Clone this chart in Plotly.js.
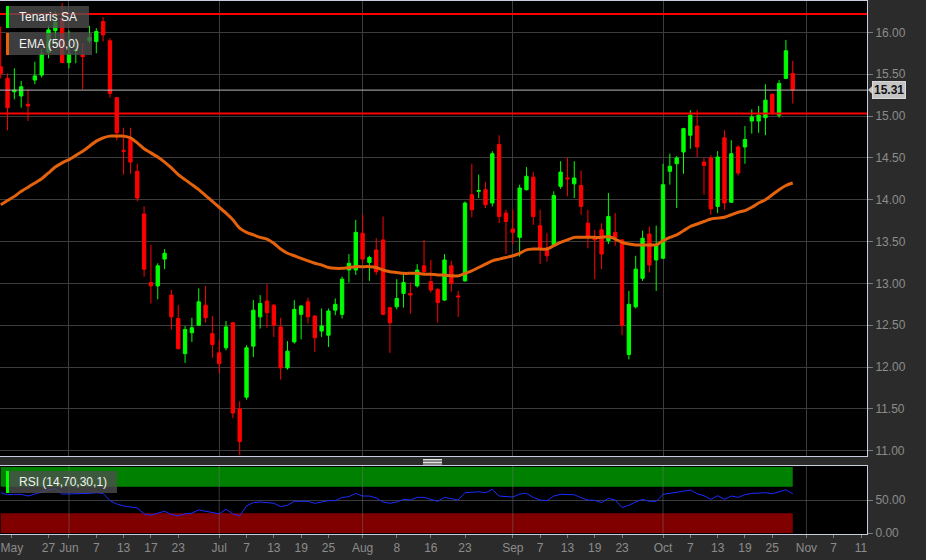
<!DOCTYPE html>
<html>
<head>
<meta charset="utf-8">
<script src="https://cdn.plot.ly/plotly-3.0.1.min.js"></script>
<style>
html,body{margin:0;padding:0;background:#2b2b2b;}
#chart{width:926px;height:560px;}
</style>
</head>
<body>
<div id="chart"></div>
<script>
// ---- data (trading days, Borsa Italiana 2022) ----
const dates = [
"2022-05-18","2022-05-19","2022-05-20","2022-05-23","2022-05-24","2022-05-25","2022-05-26","2022-05-27","2022-05-30","2022-05-31",
"2022-06-01","2022-06-02","2022-06-03","2022-06-06","2022-06-07","2022-06-08","2022-06-09","2022-06-10","2022-06-13","2022-06-14",
"2022-06-15","2022-06-16","2022-06-17","2022-06-20","2022-06-21","2022-06-22","2022-06-23","2022-06-24","2022-06-27","2022-06-28",
"2022-06-29","2022-06-30","2022-07-01","2022-07-04","2022-07-05","2022-07-06","2022-07-07","2022-07-08","2022-07-11","2022-07-12",
"2022-07-13","2022-07-14","2022-07-15","2022-07-18","2022-07-19","2022-07-20","2022-07-21","2022-07-22","2022-07-25","2022-07-26",
"2022-07-27","2022-07-28","2022-07-29","2022-08-01","2022-08-02","2022-08-03","2022-08-04","2022-08-05","2022-08-08","2022-08-09",
"2022-08-10","2022-08-11","2022-08-12","2022-08-16","2022-08-17","2022-08-18","2022-08-19","2022-08-22","2022-08-23","2022-08-24",
"2022-08-25","2022-08-26","2022-08-29","2022-08-30","2022-08-31","2022-09-01","2022-09-02","2022-09-05","2022-09-06","2022-09-07",
"2022-09-08","2022-09-09","2022-09-12","2022-09-13","2022-09-14","2022-09-15","2022-09-16","2022-09-19","2022-09-20","2022-09-21",
"2022-09-22","2022-09-23","2022-09-26","2022-09-27","2022-09-28","2022-09-29","2022-09-30","2022-10-03","2022-10-04","2022-10-05",
"2022-10-06","2022-10-07","2022-10-10","2022-10-11","2022-10-12","2022-10-13","2022-10-14","2022-10-17","2022-10-18","2022-10-19",
"2022-10-20","2022-10-21","2022-10-24","2022-10-25","2022-10-26","2022-10-27","2022-10-28"];

const openP = [
15.59,15.45,15.29,15.24,15.14,15.43,15.49,15.76,16.02,16.17,
15.64,15.78,15.73,15.90,15.89,16.13,15.90,15.22,14.59,14.72,
14.34,13.83,13.01,12.97,13.29,12.86,12.58,12.16,12.41,12.50,
12.74,12.40,12.17,12.23,12.53,11.50,11.64,12.25,12.60,12.79,
12.74,12.48,11.99,12.30,12.63,12.78,12.61,12.43,12.38,12.68,
12.63,13.16,13.16,13.60,13.25,13.40,13.52,12.71,12.72,12.88,
12.88,12.97,13.21,13.02,12.93,12.80,13.21,12.85,13.03,14.06,
14.10,14.12,13.96,14.66,13.84,13.65,13.55,14.12,14.27,13.69,
13.42,13.46,14.16,14.26,14.19,14.17,13.72,13.56,13.64,13.51,
13.61,13.52,12.15,12.72,13.06,13.59,13.28,13.30,14.34,14.43,
14.57,14.77,14.88,14.45,14.50,13.92,14.74,13.97,14.63,14.63,
14.94,14.94,14.98,15.26,15.01,15.45,15.51];

const highP = [
16.07,15.51,15.57,15.42,15.32,15.65,15.80,16.08,16.25,16.35,
16.02,15.93,15.87,16.08,16.05,16.18,15.93,15.23,14.86,14.86,
14.43,13.92,13.46,13.24,13.41,12.92,12.74,12.49,12.59,12.94,
12.97,12.61,12.32,12.55,12.54,11.59,12.26,12.80,12.86,12.99,
12.75,12.59,12.31,12.80,12.74,12.83,12.62,12.70,12.70,12.82,
13.08,13.35,13.76,13.82,13.33,13.54,13.80,12.72,13.05,13.13,
13.01,13.23,13.52,13.28,12.94,13.35,13.27,12.91,13.98,14.43,
14.30,14.21,14.58,14.77,13.88,13.88,14.18,14.39,14.33,13.88,
13.60,14.10,14.46,14.50,14.46,14.35,13.88,13.64,13.72,14.08,
13.84,13.53,12.91,13.33,13.63,13.68,13.69,14.43,14.55,14.52,
14.86,15.07,15.07,14.50,14.53,14.58,14.83,14.71,14.65,14.88,
15.08,15.12,15.38,15.27,15.43,15.91,15.66];

const lowP = [
15.45,14.83,15.20,15.10,14.94,15.38,15.46,15.69,15.86,15.63,
15.57,15.63,15.32,15.87,15.75,15.89,15.22,14.71,14.30,14.31,
13.98,13.08,12.76,12.81,13.17,12.45,12.21,12.05,12.30,12.49,
12.53,12.11,11.93,12.20,11.39,10.95,11.61,12.12,12.46,12.47,
12.36,11.85,11.97,12.28,12.33,12.52,12.18,12.36,12.24,12.62,
12.58,13.01,13.10,13.24,13.03,13.10,12.62,12.17,12.69,12.71,
12.64,12.95,13.12,12.89,12.53,12.79,12.90,12.60,13.02,13.79,
14.02,13.90,13.92,13.72,13.35,13.47,13.32,14.11,13.70,13.23,
13.26,13.45,14.13,14.04,14.02,13.82,13.42,13.05,13.17,13.47,
13.45,12.38,12.09,12.70,13.03,13.13,12.91,13.29,14.18,13.90,
14.31,14.61,14.51,14.06,13.82,13.84,13.88,13.96,14.29,14.43,
14.79,14.80,14.77,15.01,14.98,15.44,15.15];

const closeP = [
15.51,15.10,15.31,15.35,15.12,15.48,15.74,16.03,16.12,15.64,
15.74,15.79,15.71,15.94,16.01,15.97,15.27,14.80,14.58,14.45,
14.02,13.17,12.97,13.21,13.36,12.60,12.22,12.45,12.47,12.78,
12.59,12.27,12.04,12.48,11.45,11.11,12.23,12.68,12.76,12.65,
12.50,11.99,12.19,12.69,12.73,12.60,12.35,12.49,12.67,12.75,
13.05,13.24,13.61,13.29,13.31,13.14,12.63,12.53,12.82,13.01,
12.86,13.16,13.14,12.92,12.77,13.28,13.00,12.84,13.96,13.88,
14.11,13.94,14.55,13.80,13.74,13.61,14.14,14.28,13.80,13.42,
13.33,14.05,14.33,14.25,14.26,13.92,13.56,13.52,13.35,13.80,
13.55,12.50,12.75,13.17,13.54,13.22,13.46,14.18,14.40,14.50,
14.85,15.01,14.63,14.41,13.89,14.51,13.96,14.55,14.32,14.72,
14.99,15.01,15.19,15.04,15.39,15.78,15.31];

const ema50 = [
13.94,13.99,14.04,14.10,14.15,14.20,14.25,14.32,14.39,14.44,
14.48,14.53,14.58,14.64,14.70,14.74,14.76,14.76,14.76,14.74,
14.68,14.61,14.56,14.51,14.45,14.38,14.30,14.24,14.18,14.12,
14.05,13.98,13.91,13.84,13.76,13.66,13.61,13.58,13.55,13.53,
13.48,13.41,13.36,13.33,13.30,13.27,13.24,13.22,13.19,13.18,
13.18,13.19,13.20,13.20,13.20,13.19,13.16,13.14,13.13,13.12,
13.12,13.12,13.11,13.11,13.10,13.10,13.09,13.09,13.12,13.15,
13.19,13.23,13.27,13.29,13.31,13.33,13.36,13.40,13.41,13.41,
13.41,13.45,13.49,13.52,13.55,13.55,13.55,13.55,13.55,13.56,
13.53,13.49,13.47,13.46,13.46,13.46,13.46,13.51,13.55,13.58,
13.63,13.68,13.71,13.74,13.77,13.78,13.79,13.82,13.85,13.87,
13.91,13.96,14.00,14.06,14.12,14.17,14.20];

const rsi14 = [
61,58,58.6,58.5,56,58.5,62,65,67,59,
59,59,59,60,61,60,49,44,41,40,
38,29,27,30,33,28,26,29,30,35,
33,31,29,36,29,26,41,46,47,46,
45,40,42,48,48,48,45,47,49,49,
54,55,60,56,56,53,47,45,47,51,
50,54,54,51,48,54,52,50,61,61.5,
62.5,61,66,56,55,54.5,59,60,54,50,
49,56,58.5,58,58,53.5,50,49.5,46,52.5,
50,38.5,42,47,51,48,48,58.5,60,61.5,
63,65,59.5,56.5,51,56.5,51,56,54,58,
60,60.5,61,59.5,62.5,65.4,59.5];

const resistanceLevels = [16.22, 15.03];
const lastPrice = 15.31;
const rsiOverbought = [70, 100];
const rsiOversold = [0, 30];

const monthStarts = ["2022-06-01","2022-07-01","2022-08-01","2022-09-01","2022-10-03","2022-11-01"];
const tickDates = ["2022-05-19 15:00","2022-05-27","2022-06-01","2022-06-07","2022-06-13","2022-06-17","2022-06-23",
  "2022-07-01","2022-07-07","2022-07-13","2022-07-19","2022-07-25","2022-08-01","2022-08-08","2022-08-16","2022-08-23",
  "2022-09-01","2022-09-07","2022-09-13","2022-09-19","2022-09-23","2022-10-03","2022-10-07","2022-10-13","2022-10-19",
  "2022-10-25","2022-11-01","2022-11-07","2022-11-11"];
const tickText = ["May","27","Jun","7","13","17","23","Jul","7","13","19","25","Aug","8","16","23",
  "Sep","7","13","19","23","Oct","7","13","19","25","Nov","7","11"];

// ---- layout helpers (pixel -> paper) ----
const PW = 867, PTOP = 1, PBOT = 534, PH = PBOT - PTOP;
const pxX = v => v / PW;
const pxY = v => (PBOT - v) / PH;

const FONT = 'Arial, "Liberation Sans", sans-serif';
const GRID = '#3c3c3c';
const FRAME = '#c9cde0';
const TICKC = '#8c8c8c';
const rb = [{bounds: ['sat', 'mon']}, {values: ['2022-08-15']}];
const xRange = ['2022-05-17 21:30', '2022-11-11 21:00'];

const traces = [
  {
    type: 'candlestick', x: dates, open: openP, high: highP, low: lowP, close: closeP,
    xaxis: 'x', yaxis: 'y',
    increasing: {line: {color: '#00ff00', width: 1}, fillcolor: '#00ff00'},
    decreasing: {line: {color: '#ff0000', width: 1}, fillcolor: '#ff0000'},
    whiskerwidth: 0, hoverinfo: 'skip'
  },
  {
    type: 'scatter', mode: 'lines', x: dates, y: ema50, xaxis: 'x', yaxis: 'y',
    line: {color: '#e4620c', width: 3, shape: 'spline', smoothing: 0.6}, hoverinfo: 'skip'
  },
  // RSI bands
  {type: 'scatter', mode: 'lines', x: dates, y: dates.map(() => rsiOverbought[0]), xaxis: 'x2', yaxis: 'y2',
   line: {width: 0, color: 'rgba(0,0,0,0)'}, hoverinfo: 'skip'},
  {type: 'scatter', mode: 'lines', x: dates, y: dates.map(() => rsiOverbought[1]), xaxis: 'x2', yaxis: 'y2',
   line: {width: 0, color: 'rgba(0,0,0,0)'}, fill: 'tonexty', fillcolor: '#008000', hoverinfo: 'skip'},
  {type: 'scatter', mode: 'lines', x: dates, y: dates.map(() => rsiOversold[0]), xaxis: 'x2', yaxis: 'y2',
   line: {width: 0, color: 'rgba(0,0,0,0)'}, hoverinfo: 'skip'},
  {type: 'scatter', mode: 'lines', x: dates, y: dates.map(() => rsiOversold[1]), xaxis: 'x2', yaxis: 'y2',
   line: {width: 0, color: 'rgba(0,0,0,0)'}, fill: 'tonexty', fillcolor: '#800000', hoverinfo: 'skip'},
  {type: 'scatter', mode: 'lines', x: dates, y: rsi14, xaxis: 'x2', yaxis: 'y2',
   line: {color: '#1a2cff', width: 1}, hoverinfo: 'skip'}
];

const shapes = [];
// resistance / support lines
resistanceLevels.forEach(v => shapes.push({type: 'line', xref: 'x domain', yref: 'y', x0: 0, x1: 1, y0: v, y1: v,
  line: {color: '#ff0000', width: 2}, layer: 'above'}));
// last price line
shapes.push({type: 'line', xref: 'x domain', yref: 'y', x0: 0, x1: 1, y0: lastPrice, y1: lastPrice,
  line: {color: '#b8b8b8', width: 1}, layer: 'above'});
// last price pointer
shapes.push({type: 'path', xref: 'paper', yref: 'y',
  path: `M ${pxX(868)},${lastPrice} L ${pxX(872)},${lastPrice + 0.045} L ${pxX(872)},${lastPrice - 0.045} Z`,
  fillcolor: '#c4c4c4', line: {width: 0}, layer: 'above'});
// RSI month grid lines
monthStarts.forEach(d => shapes.push({type: 'line', xref: 'x2', yref: 'y2 domain', x0: d, x1: d, y0: 0, y1: 1,
  line: {color: 'rgba(120,120,120,0.45)', width: 1}, layer: 'above'}));
// legend boxes
function legendBox(x1, y0, y1, color) {
  shapes.push({type: 'rect', xref: 'paper', yref: 'paper', x0: pxX(9), x1: pxX(x1), y0: pxY(y1), y1: pxY(y0),
    fillcolor: 'rgba(78,78,78,0.78)', line: {width: 0}, layer: 'above'});
  shapes.push({type: 'rect', xref: 'paper', yref: 'paper', x0: pxX(6), x1: pxX(9), y0: pxY(y1), y1: pxY(y0),
    fillcolor: color, line: {width: 0}, layer: 'above'});
}
legendBox(89, 6, 28, '#00ff00');
legendBox(92, 33, 55, '#e4620c');
legendBox(117, 471, 493, '#00ff00');
// panel splitter handle
[459.5, 461, 462.5, 464].forEach(v => shapes.push({type: 'line', xref: 'paper', yref: 'paper',
  x0: pxX(423), x1: pxX(442), y0: pxY(v), y1: pxY(v), line: {color: '#e0e0e0', width: 1}}));

const annotations = [
  {text: 'Tenaris SA', xref: 'paper', yref: 'paper', x: pxX(17), y: pxY(17), xanchor: 'left', yanchor: 'middle',
   showarrow: false, font: {family: FONT, size: 12, color: '#f2f2f2'}},
  {text: 'EMA (50,0)', xref: 'paper', yref: 'paper', x: pxX(17), y: pxY(44), xanchor: 'left', yanchor: 'middle',
   showarrow: false, font: {family: FONT, size: 12, color: '#f2f2f2'}},
  {text: 'RSI (14,70,30,1)', xref: 'paper', yref: 'paper', x: pxX(17), y: pxY(482), xanchor: 'left', yanchor: 'middle',
   showarrow: false, font: {family: FONT, size: 12, color: '#f2f2f2'}},
  {text: '<b>' + lastPrice.toFixed(2) + '</b>', xref: 'paper', yref: 'y', x: pxX(872), y: lastPrice,
   xanchor: 'left', yanchor: 'middle', showarrow: false, bgcolor: '#c4c4c4', borderpad: 1,
   bordercolor: '#d8d8d8', borderwidth: 1,
   font: {family: FONT, size: 12, color: '#111111'}}
];

const layout = {
  width: 926, height: 560,
  margin: {l: 0, r: 59, t: PTOP, b: 560 - PBOT, pad: 0},
  paper_bgcolor: '#2b2b2b', plot_bgcolor: '#000000',
  showlegend: false, hovermode: false,
  font: {family: FONT, size: 12, color: TICKC},
  xaxis: {
    type: 'date', anchor: 'y', domain: [0, 1], range: xRange, rangebreaks: rb,
    rangeslider: {visible: false},
    tickmode: 'array', tickvals: monthStarts, showticklabels: false, ticks: '',
    showgrid: true, gridcolor: GRID, gridwidth: 1,
    showline: true, mirror: true, linecolor: FRAME, linewidth: 1, zeroline: false, fixedrange: true
  },
  yaxis: {
    anchor: 'x', domain: [pxY(456), 1], side: 'right', range: [10.937, 16.375],
    tickmode: 'linear', tick0: 11, dtick: 0.5, tickformat: '.2f',
    ticks: 'outside', ticklen: 5, tickcolor: '#7a7a7a', tickfont: {family: FONT, size: 12, color: TICKC},
    showgrid: true, gridcolor: GRID, gridwidth: 1, zeroline: false,
    showline: true, mirror: true, linecolor: FRAME, linewidth: 1, fixedrange: true
  },
  xaxis2: {
    type: 'date', anchor: 'y2', domain: [0, 1], range: xRange, rangebreaks: rb,
    tickmode: 'array', tickvals: tickDates, ticktext: tickText, ticklabeloverflow: 'allow',
    ticks: 'outside', ticklen: 3, tickcolor: '#7a7a7a', tickfont: {family: FONT, size: 12, color: TICKC},
    showgrid: false, showline: true, mirror: true, linecolor: FRAME, linewidth: 1, zeroline: false, fixedrange: true
  },
  yaxis2: {
    anchor: 'x2', domain: [0, pxY(466)], side: 'right', range: [-1.5, 101.5],
    tickmode: 'array', tickvals: [0, 50], tickformat: '.2f',
    ticks: 'outside', ticklen: 5, tickcolor: '#7a7a7a', tickfont: {family: FONT, size: 12, color: TICKC},
    showgrid: true, gridcolor: GRID, zeroline: false,
    showline: true, mirror: true, linecolor: FRAME, linewidth: 1, fixedrange: true
  },
  shapes: shapes,
  annotations: annotations
};

Plotly.newPlot('chart', traces, layout, {displayModeBar: false, staticPlot: true});
</script>
</body>
</html>
